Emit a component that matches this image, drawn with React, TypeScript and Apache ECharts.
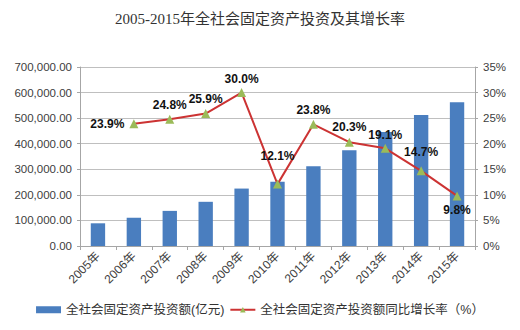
import React, { useEffect, useRef } from "react";
import * as echarts from "echarts";

const categories = ["2005年", "2006年", "2007年", "2008年", "2009年", "2010年", "2011年", "2012年", "2013年", "2014年", "2015年"];
const investment = [88774, 109998, 137324, 172828, 224599, 251684, 311485, 374695, 446294, 512021, 561999];
const growth: (number | null)[] = [null, 23.9, 24.8, 25.9, 30.0, 12.1, 23.8, 20.3, 19.1, 14.7, 9.8];
const labelPos = ["top", "left", "top", "top", "top", "top", "top", "top", "top", "top", "bottom"];
const labelDist = [5, 5, 4, 4, 3, 18, 4, 5, 3, 8, 4];

const title = "2005-2015年全社会固定资产投资及其增长率";
const barName = "全社会固定资产投资额(亿元)";
const lineName = "全社会固定资产投资额同比增长率（%）";

export default function App() {
  const ref = useRef<HTMLDivElement>(null);
  useEffect(() => {
    document.body.style.margin = "0";
    if (!ref.current) return;
    const chart = echarts.init(ref.current, null, { renderer: "svg" });
    const textFont = "'Liberation Sans', 'Noto Sans CJK SC', sans-serif";
    chart.setOption({
      animation: false,
      backgroundColor: "#ffffff",
      title: {
        text: title,
        left: "center",
        top: 6,
        textStyle: {
          fontFamily: "'Liberation Serif', 'Noto Sans CJK SC', serif",
          fontSize: 15,
          fontWeight: "normal",
          color: "#333333",
        },
      },
      legend: {
        bottom: 9,
        left: "center",
        itemGap: 5,
        itemWidth: 25,
        itemHeight: 7,
        textStyle: { fontFamily: textFont, fontSize: 12.5, color: "#333333" },
        data: [
          { name: barName, icon: "rect" },
          { name: lineName },
        ],
      },
      grid: { left: 80, right: 45, top: 67, bottom: 84 },
      xAxis: {
        type: "category",
        data: categories,
        axisLine: { lineStyle: { color: "#a6a6a6" } },
        axisTick: { show: true, length: 4, lineStyle: { color: "#a6a6a6" } },
        axisLabel: { rotate: 45, fontFamily: textFont, fontSize: 12, color: "#404040", margin: 8 },
      },
      yAxis: [
        {
          type: "value",
          min: 0,
          max: 700000,
          interval: 100000,
          axisLine: { show: true, lineStyle: { color: "#a6a6a6" } },
          axisTick: { show: true, length: 3, lineStyle: { color: "#a6a6a6" } },
          splitLine: { lineStyle: { color: "#bfbfbf" } },
          axisLabel: {
            fontFamily: textFont,
            fontSize: 11.5,
            color: "#404040",
            margin: 8,
            formatter: (v: number) =>
              v.toLocaleString("en-US", { minimumFractionDigits: 2, maximumFractionDigits: 2 }),
          },
        },
        {
          type: "value",
          min: 0,
          max: 35,
          interval: 5,
          axisLine: { show: true, lineStyle: { color: "#a6a6a6" } },
          axisTick: { show: true, length: 3, lineStyle: { color: "#a6a6a6" } },
          splitLine: { show: false },
          axisLabel: { fontFamily: textFont, fontSize: 11.5, color: "#404040", margin: 8, formatter: "{value}%" },
        },
      ],
      series: [
        {
          name: barName,
          type: "bar",
          data: investment,
          barWidth: "40%",
          itemStyle: { color: "#4a7ebf" },
        },
        {
          name: lineName,
          type: "line",
          yAxisIndex: 1,
          data: growth.map((v, i) => ({
            value: v,
            label: { position: labelPos[i], distance: labelDist[i] },
          })),
          connectNulls: false,
          symbol: "triangle",
          symbolSize: 9,
          itemStyle: { color: "#9bbb59" },
          lineStyle: { color: "#cc3333", width: 2 },
          label: {
            show: true,
            fontFamily: textFont,
            fontSize: 12,
            fontWeight: "bold",
            color: "#111111",
            formatter: (p: any) => (p.value == null ? "" : Number(p.value).toFixed(1) + "%"),
          },
        },
      ],
    });
    return () => chart.dispose();
  }, []);
  return <div ref={ref} style={{ width: 520, height: 330 }} />;
}
